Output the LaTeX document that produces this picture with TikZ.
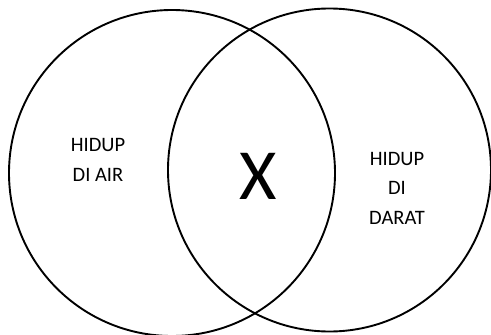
\documentclass[tikz,border=0pt]{standalone}
\usepackage{fontspec}
\setmainfont{Carlito}
\usepackage{tikz}
\usetikzlibrary{positioning}

\begin{document}
\begin{tikzpicture}[x=1pt,y=-1pt,line width=1.9pt]
  \useasboundingbox (0,0) rectangle (491,335);
  \tikzset{setlabel/.style={align=center,font=\fontsize{20.5}{29.5}\selectfont}}
  \draw (172,173) circle (163);
  \draw (329.5,170) circle (161.5);
  \node[setlabel] (air) at (98,160) {HIDUP\\DI AIR};
  \node[setlabel] (darat) at (397,188) {HIDUP\\DI\\DARAT};
  \node[font=\fontsize{72}{72}\selectfont] (irisan) at (258,176) {X};
\end{tikzpicture}
\end{document}
